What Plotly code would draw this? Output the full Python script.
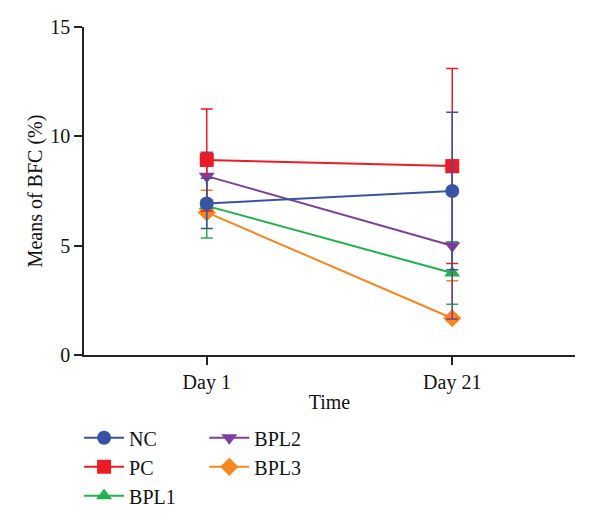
import plotly.graph_objects as go

days = ["Day 1", "Day 21"]
groups = ["NC", "PC", "BPL1", "BPL2", "BPL3"]
means = {
    "NC": [6.93, 7.50],
    "PC": [8.92, 8.64],
    "BPL1": [6.82, 3.75],
    "BPL2": [8.18, 5.00],
    "BPL3": [6.52, 1.68],
}
err_plus = {
    "NC": [1.15, 3.60],
    "PC": [2.33, 4.46],
    "BPL1": [1.47, 1.43],
    "BPL2": [1.09, 3.35],
    "BPL3": [1.02, 1.72],
}
err_minus = {
    "NC": [1.15, 3.60],
    "PC": [2.33, 4.46],
    "BPL1": [1.47, 1.43],
    "BPL2": [1.09, 3.35],
    "BPL3": [0.0, 0.0],
}
colors = {"NC": "#3953a4", "PC": "#ec1c24", "BPL1": "#22b24c",
          "BPL2": "#7f3f98", "BPL3": "#f7861f"}
symbols = {"NC": "circle", "PC": "square", "BPL1": "triangle-up",
           "BPL2": "triangle-down", "BPL3": "diamond"}
legend_of = {"NC": "legend", "PC": "legend", "BPL1": "legend",
             "BPL2": "legend2", "BPL3": "legend2"}
draw_order = ["BPL3", "BPL1", "BPL2", "PC", "NC"]

fig = go.Figure()
for g in draw_order:
    fig.add_trace(go.Scatter(
        x=[0, 1], y=means[g], name=g, mode="lines+markers",
        line=dict(color=colors[g], width=2),
        marker=dict(symbol=symbols[g], size=14, color=colors[g]),
        error_y=dict(type="data", array=err_plus[g], arrayminus=err_minus[g],
                     color=colors[g], thickness=1.5, width=6, symmetric=False),
        legend=legend_of[g], legendgroup=g, legendrank=groups.index(g) + 1,
    ))

font = "Liberation Serif, Times New Roman, serif"
fs = 20
fig.update_layout(
    width=600, height=525,
    margin=dict(l=84, r=25, t=27, b=170, autoexpand=False),
    plot_bgcolor="white", paper_bgcolor="white",
    font=dict(family=font, size=fs, color="#111"),
    xaxis=dict(range=[-0.5, 1.5], tickvals=[0, 1], ticktext=days,
               showline=True, linecolor="#222", linewidth=1.5,
               ticks="outside", ticklen=8, tickwidth=1.5, tickcolor="#222",
               showgrid=False, zeroline=False,
               title=dict(text="Time", font=dict(size=fs), standoff=2)),
    yaxis=dict(range=[0, 15], tickvals=[0, 5, 10, 15],
               showline=True, linecolor="#222", linewidth=1.5,
               ticks="outside", ticklen=8, tickwidth=1.5, tickcolor="#222",
               showgrid=False, zeroline=False,
               title=dict(text="Means of BFC (%)", font=dict(size=fs), standoff=2)),
    legend=dict(x=-0.01, y=-0.193, xanchor="left", yanchor="top",
                orientation="v", font=dict(size=fs), itemwidth=40,
                bgcolor="rgba(0,0,0,0)", tracegroupgap=0),
    legend2=dict(x=0.245, y=-0.193, xanchor="left", yanchor="top",
                 orientation="v", font=dict(size=fs), itemwidth=40,
                 bgcolor="rgba(0,0,0,0)", tracegroupgap=0),
)
fig.write_html("out.html")
